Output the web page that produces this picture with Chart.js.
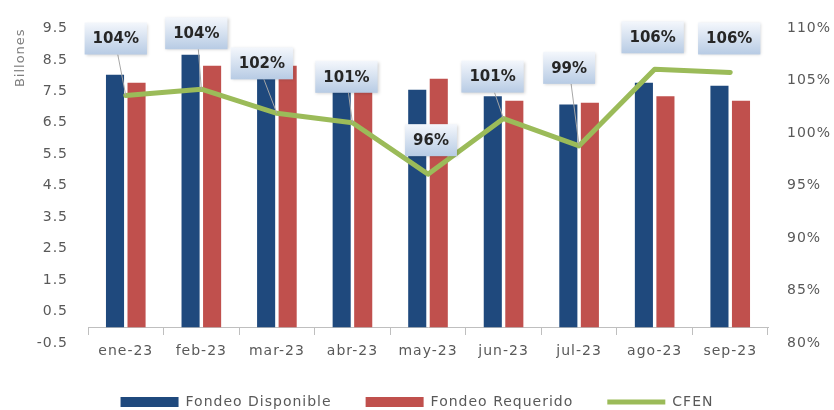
<!DOCTYPE html>
<html>
<head>
<meta charset="utf-8">
<script src="https://cdn.jsdelivr.net/npm/chart.js@4.4.1/dist/chart.umd.min.js"></script>
<style>
  html, body { margin: 0; padding: 0; background: #fff; }
  #wrap { width: 834px; height: 410px; }
</style>
</head>
<body>
<div id="wrap"><canvas id="chart" width="834" height="410"></canvas></div>
<script>
const months = ["ene-23", "feb-23", "mar-23", "abr-23", "may-23", "jun-23", "jul-23", "ago-23", "sep-23"];
const fondeoDisponible = [8.03, 8.66, 8.48, 7.75, 7.55, 7.34, 7.08, 7.77, 7.68];
const fondeoRequerido = [7.77, 8.31, 8.31, 7.65, 7.90, 7.20, 7.14, 7.34, 7.20];
const cfen = [103.6, 104.2, 101.9, 101.0, 96.1, 101.4, 98.8, 106.1, 105.8];
const leftTicks = [-0.5, 0.5, 1.5, 2.5, 3.5, 4.5, 5.5, 6.5, 7.5, 8.5, 9.5];
const rightTicks = [80, 85, 90, 95, 100, 105, 110];

const FONT = "'DejaVu Sans', sans-serif";
const GREY = "#595959";

// where each CFEN callout sits relative to its point
const labelOffsets = [[-10, -57], [-5, -56], [-15, -50], [-6, -46], [3, -34], [-11, -42], [-10, -78], [-2, -32], [-1, -34]];

// slightly looser lettering for axis and legend text
const spacing = {
  id: "spacing",
  beforeUpdate(chart) { chart.ctx.letterSpacing = "1px"; },
  beforeDraw(chart) { chart.ctx.letterSpacing = "1px"; },
};

// push the legend row further down, below the category labels
const legendDrop = {
  id: "legendDrop",
  afterLayout(chart) {
    chart.legend.top += 18;
    chart.legend.bottom += 18;
  },
};

const cfenLabels = {
  id: "cfenLabels",
  afterDatasetsDraw(chart) {
    const ctx = chart.ctx;
    const pts = chart.getDatasetMeta(2).data;
    const h = 32;
    ctx.save();
    ctx.letterSpacing = "0px";
    ctx.font = "bold 15px " + FONT;

    // leader lines first so boxes cover them
    ctx.strokeStyle = "#a6a6a6";
    ctx.lineWidth = 1;
    pts.forEach((pt, i) => {
      const cx = pt.x + labelOffsets[i][0];
      const cy = pt.y + labelOffsets[i][1];
      if (Math.abs(labelOffsets[i][1]) > 40) {
        ctx.beginPath();
        ctx.moveTo(pt.x, pt.y);
        ctx.lineTo(cx + 2, cy + h / 2);
        ctx.stroke();
      }
    });

    pts.forEach((pt, i) => {
      const text = Math.round(cfen[i]) + "%";
      const w = ctx.measureText(text).width + 16;
      const cx = pt.x + labelOffsets[i][0];
      const cy = pt.y + labelOffsets[i][1];
      const x0 = cx - w / 2, y0 = cy - h / 2;
      const g = ctx.createLinearGradient(0, y0, 0, y0 + h);
      g.addColorStop(0, "#f4f7fc");
      g.addColorStop(1, "#b7cbe4");
      ctx.save();
      ctx.shadowColor = "rgba(0,0,0,0.18)";
      ctx.shadowBlur = 3;
      ctx.shadowOffsetX = 1;
      ctx.shadowOffsetY = 1;
      ctx.fillStyle = g;
      ctx.fillRect(x0, y0, w, h);
      ctx.restore();
      ctx.fillStyle = "#262626";
      ctx.textAlign = "center";
      ctx.textBaseline = "middle";
      ctx.fillText(text, cx, cy + 1);
    });
    ctx.restore();
  }
};

new Chart(document.getElementById("chart"), {
  type: "bar",
  data: {
    labels: months,
    datasets: [
      {
        label: "Fondeo Disponible",
        data: fondeoDisponible,
        backgroundColor: "#1f497d",
        categoryPercentage: 0.57,
        barPercentage: 0.84,
        order: 1,
      },
      {
        label: "Fondeo Requerido",
        data: fondeoRequerido,
        backgroundColor: "#c0504d",
        categoryPercentage: 0.57,
        barPercentage: 0.84,
        order: 1,
      },
      {
        type: "line",
        label: "CFEN",
        data: cfen,
        yAxisID: "y1",
        borderColor: "#9bbb59",
        backgroundColor: "#9bbb59",
        borderWidth: 5,
        borderCapStyle: "round",
        borderJoinStyle: "round",
        pointRadius: 0,
        tension: 0,
        order: 0,
      },
    ],
  },
  options: {
    responsive: false,
    animation: false,
    devicePixelRatio: 1,
    layout: { padding: { top: 24, left: 0, right: 0, bottom: 9 } },
    plugins: {
      tooltip: { enabled: false },
      legend: {
        position: "bottom",
        labels: {
          usePointStyle: true,
          pointStyleWidth: 58,
          boxHeight: 10,
          padding: 34,
          color: GREY,
          font: { family: FONT, size: 14 },
          sort: (a, b) => a.datasetIndex - b.datasetIndex,
          generateLabels(chart) {
            const items = Chart.defaults.plugins.legend.labels.generateLabels(chart);
            items.forEach((it) => {
              it.pointStyle = it.datasetIndex === 2 ? "line" : "rect";
              if (it.datasetIndex !== 2) it.lineWidth = 0;
            });
            return items;
          },
        },
      },
    },
    scales: {
      x: {
        position: { y: 0 },
        grid: { drawOnChartArea: false, drawTicks: true, tickLength: 7, color: "#bfbfbf", offset: true },
        border: { display: true, color: "#bfbfbf" },
        ticks: { color: GREY, font: { family: FONT, size: 14 }, padding: 9, maxRotation: 0 },
      },
      y: {
        position: "left",
        min: -0.5,
        max: 9.5,
        grid: { display: false, drawTicks: false },
        border: { display: false },
        afterBuildTicks: (s) => { s.ticks = leftTicks.map((v) => ({ value: v })); },
        afterFit: (s) => { s.width = 88; },
        ticks: {
          color: GREY,
          padding: 20,
          font: { family: FONT, size: 14 },
          callback: (v) => Number(v).toFixed(1),
        },
        title: {
          display: true,
          text: "Billones",
          align: "end",
          color: "#7f7f7f",
          font: { family: FONT, size: 13 },
          padding: { top: 13, bottom: 0 },
        },
      },
      y1: {
        position: "right",
        min: 80,
        max: 110,
        grid: { display: false, drawTicks: false },
        border: { display: false },
        afterBuildTicks: (s) => { s.ticks = rightTicks.map((v) => ({ value: v })); },
        afterFit: (s) => { s.width = 66; },
        ticks: {
          color: GREY,
          padding: 19,
          font: { family: FONT, size: 14 },
          callback: (v) => v + "%",
        },
      },
    },
  },
  plugins: [spacing, legendDrop, cfenLabels],
});
</script>
</body>
</html>
